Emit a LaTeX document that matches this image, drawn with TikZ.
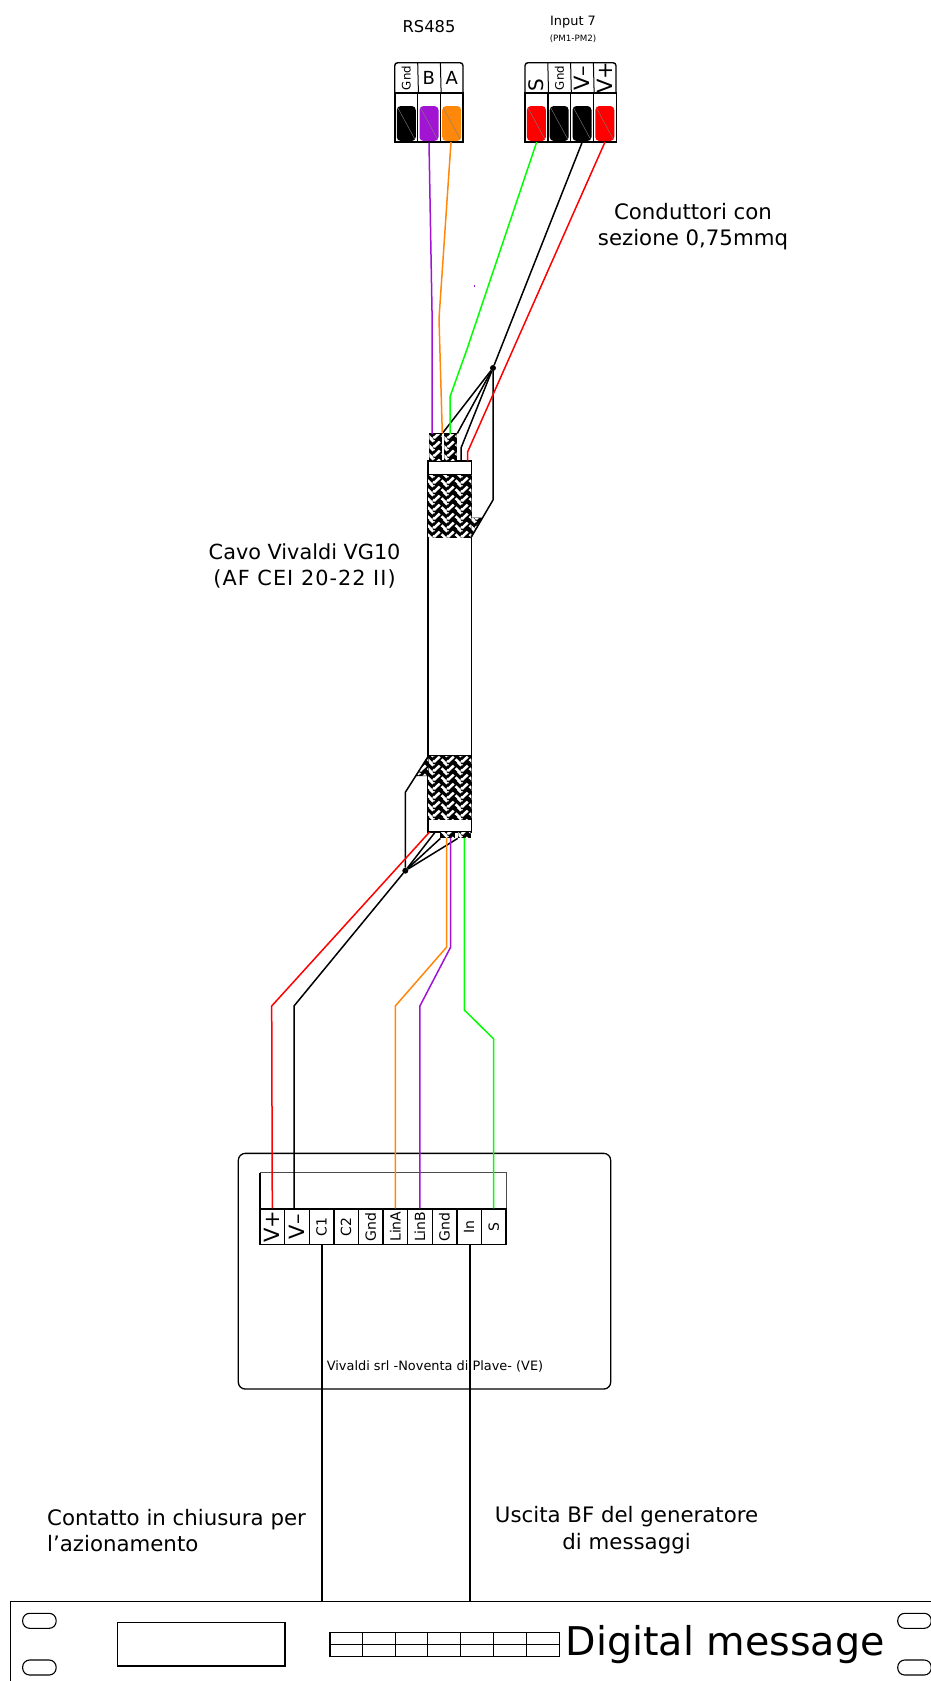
\documentclass[tikz,border=0pt]{standalone}
\usepackage{fontspec}
\usepackage{xcolor}
\setmainfont{DejaVu Sans}
\usetikzlibrary{patterns,calc}

\definecolor{wirered}{RGB}{255,0,0}
\definecolor{wiregreen}{RGB}{0,255,0}
\definecolor{wirepurple}{RGB}{160,20,210}
\definecolor{wireorange}{RGB}{255,135,10}

% woven screen of the cable
\pgfdeclarepatternformonly{braidweave}{\pgfqpoint{0pt}{0pt}}{\pgfqpoint{14pt}{9pt}}{\pgfqpoint{14pt}{9pt}}{
  \pgfsetlinewidth{2.7pt}
  \pgfpathmoveto{\pgfqpoint{0pt}{1pt}}\pgfpathlineto{\pgfqpoint{6pt}{7pt}}
  \pgfpathmoveto{\pgfqpoint{14pt}{1pt}}\pgfpathlineto{\pgfqpoint{20pt}{7pt}}
  \pgfpathmoveto{\pgfqpoint{8pt}{4pt}}\pgfpathlineto{\pgfqpoint{14pt}{-2pt}}
  \pgfpathmoveto{\pgfqpoint{8pt}{13pt}}\pgfpathlineto{\pgfqpoint{14pt}{7pt}}
  \pgfpathmoveto{\pgfqpoint{-6pt}{4pt}}\pgfpathlineto{\pgfqpoint{0pt}{-2pt}}
  \pgfpathmoveto{\pgfqpoint{-6pt}{13pt}}\pgfpathlineto{\pgfqpoint{0pt}{7pt}}
  \pgfusepath{stroke}
}

\begin{document}
\begin{tikzpicture}[x=1pt, y=-1pt]
  % Define styles
  \tikzstyle{wire} = [line width=1.5pt, line join=round]
  \tikzstyle{drain} = [wire, black]
  \tikzstyle{note} = [font=\fontsize{21.3}{26.5}\selectfont, align=center, inner sep=0pt]
  \tikzstyle{termtop} = [inner sep=0pt, minimum width=31pt, minimum height=23pt, rotate=90]
  \tikzstyle{plugbay} = [draw, line width=1.4pt, inner sep=0pt, minimum width=22.8pt, minimum height=49pt]
  \tikzstyle{plug} = [inner sep=0pt, minimum width=19pt, minimum height=35pt, rounded corners=4pt,
    path picture={
      \draw[gray, line width=.4pt] (path picture bounding box.north west) -- (path picture bounding box.south east);
      \draw[white, opacity=.3, line width=.8pt] ($(path picture bounding box.north west)+(0,-3.5)$) -- ($(path picture bounding box.north east)+(0,-3.5)$);
      \draw[white, opacity=.3, line width=.8pt] ($(path picture bounding box.south west)+(0,2)$) -- ($(path picture bounding box.south east)+(0,2)$);
    }]
  \tikzstyle{term} = [draw, line width=1.4pt, inner sep=0pt, minimum width=35.3pt, minimum height=24.6pt, rotate=90, font=\fontsize{14}{14}\selectfont]
  \tikzstyle{braid} = [draw, line width=1.2pt, inner sep=0pt, fill=black, postaction={pattern=braidweave, pattern color=white}]
  \tikzstyle{dot} = [circle, fill=black, inner sep=0pt, minimum size=6pt]
  \tikzstyle{slot} = [draw, line width=1.1pt, inner sep=0pt, rounded corners=7pt, minimum height=15pt, minimum width=33.5pt]

  \useasboundingbox (0,0) rectangle (931,1681);
  \clip (0,0) rectangle (931,1681);

  % Connector RS485
  \node [font=\fontsize{16.3}{16}\selectfont] (rsTitle) at (429,27) {RS485};
  \draw [line width=1.4pt, rounded corners=3pt] (394.7,93) |- (463,62.7) -- (463,93);
  \node [termtop, font=\fontsize{11.8}{12}\selectfont] (rsGnd) at (406.3,78) {Gnd};
  \node [font=\fontsize{18}{18}\selectfont] (rsB) at (428.8,78) {B};
  \node [font=\fontsize{18}{18}\selectfont] (rsA) at (451.8,78) {A};
  \node [plugbay] (bayGnd) at (406.3,117.5) {};
  \node [plugbay] (bayB) at (429,117.5) {};
  \node [plugbay] (bayA) at (451.7,117.5) {};
  \node [plug, fill=black] (plugGnd) at (406.3,123.5) {};
  \node [plug, fill=wirepurple] (plugB) at (429,123.5) {};
  \node [plug, fill=wireorange] (plugA) at (451.7,123.5) {};
  \draw [line width=1pt] (bayGnd.north east) -- (417.7,62.7);
  \draw [line width=1pt] (bayB.north east) -- (440.4,62.7);

  % Connector Input 7
  \node [font=\fontsize{12.9}{13}\selectfont] (inTitle) at (573,21.7) {Input 7};
  \node [font=\fontsize{8.7}{9}\selectfont] (inSub) at (573,39) {(PM1-PM2)};
  \draw [line width=1.4pt, rounded corners=3pt] (525,93) |- (616,62.7) -- (616,93);
  \node [termtop, font=\fontsize{20}{20}\selectfont] (inS) at (536.5,85) {S};
  \node [termtop, font=\fontsize{11.8}{12}\selectfont] (inGnd) at (559.5,78) {Gnd};
  \node [termtop, font=\fontsize{21}{21}\selectfont] (inVm) at (582.3,78) {V--};
  \node [termtop, font=\fontsize{21}{21}\selectfont] (inVp) at (605,78) {V+};
  \node [plugbay] (bayS) at (536.4,117.5) {};
  \node [plugbay] (bayG) at (559.2,117.5) {};
  \node [plugbay] (bayVm) at (582,117.5) {};
  \node [plugbay] (bayVp) at (604.8,117.5) {};
  \node [plug, fill=wirered] (plugS) at (536.4,123.5) {};
  \node [plug, fill=black] (plugG) at (559.2,123.5) {};
  \node [plug, fill=black] (plugVm) at (582,123.5) {};
  \node [plug, fill=wirered] (plugVp) at (604.8,123.5) {};
  \draw [line width=1pt] (bayS.north east) -- (547.8,62.7);
  \draw [line width=1pt] (bayG.north east) -- (570.6,62.7);
  \draw [line width=1pt] (bayVm.north east) -- (593.4,62.7);

  % Cable with its two screened ends
  \node [draw, line width=1.3pt, fill=white, inner sep=0pt, minimum width=43.3pt, minimum height=371pt] (cable) at (449.7,646.5) {};
  \node [braid, minimum width=43.3pt, minimum height=62.3pt] (braidUp) at (449.7,506.2) {};
  \node [braid, minimum width=43.3pt, minimum height=63.3pt] (braidDown) at (449.7,787.7) {};
  \node [braid, minimum width=12.4pt, minimum height=26.7pt] (pairA) at (435.5,447.4) {};
  \node [braid, minimum width=12.4pt, minimum height=26.7pt] (pairB) at (450.5,447.4) {};
  \node [braid, minimum width=13pt, minimum height=5.6pt] (pairC) at (447.5,835) {};
  \node [braid, minimum width=12pt, minimum height=5.6pt] (pairD) at (464.3,835) {};

  % Upper end of the drain
  \node [dot] (knotUp) at (493,368) {};
  \coordinate (drainUp) at (493,500);
  \coordinate (flapUp) at (481.7,518);
  \coordinate (shieldUp) at (471.3,537);
  \draw [braid, line width=1pt] (471.3,518) -- (flapUp) -- (shieldUp) -- cycle;
  \draw [drain] (knotUp) -- (drainUp) -- (shieldUp);
  \draw [drain] (knotUp) -- (pairA.north east);
  \draw [drain] (knotUp) -- (pairB.north east);
  \draw [drain] (knotUp) -- (461,448) -- (461,461);

  % Lower end of the drain
  \node [dot] (knotDown) at (405.3,870.7) {};
  \coordinate (drainDown) at (405.3,792.3);
  \coordinate (flapDown) at (416,775.7);
  \coordinate (shieldDown) at (428,756.7);
  \draw [braid, line width=1pt] (shieldDown) -- (flapDown) -- (428,775.7) -- cycle;
  \draw [drain] (shieldDown) -- (drainDown) -- (knotDown);
  \draw [drain] (knotDown) -- (435,832.3);
  \draw [drain] (knotDown) -- (pairC.south west);
  \draw [drain] (knotDown) -- (pairD.south west);

  % Device terminal block
  \node [draw, line width=1.3pt, rounded corners=7pt, inner sep=0pt, minimum width=372.4pt, minimum height=235.7pt] (box) at (424.5,1271.2) {};
  \draw [line width=.9pt, draw=black!70] (260,1209) |- (506,1172.7) -- (506,1209);
  \draw [line width=1.4pt] (260,1172.7) -- (260,1209);
  \node [term, font=\fontsize{21}{21}\selectfont] (tVp) at (272.3,1226.7) {V+};
  \node [term, font=\fontsize{21}{21}\selectfont] (tVm) at (296.9,1226.7) {V--};
  \node [term] (tCa) at (321.5,1226.7) {C1};
  \node [term] (tCb) at (346.1,1226.7) {C2};
  \node [term] (tGa) at (370.7,1226.7) {Gnd};
  \node [term] (tLa) at (395.3,1226.7) {LinA};
  \node [term] (tLb) at (419.9,1226.7) {LinB};
  \node [term] (tGb) at (444.5,1226.7) {Gnd};
  \node [term] (tIn) at (469.1,1226.7) {In};
  \node [term] (tS) at (493.7,1226.7) {S};
  \node [font=\fontsize{12.9}{13}\selectfont] (maker) at (435,1366.7) {Vivaldi srl -Noventa di Plave- (VE)};

  % Rack unit
  \draw [line width=1.2pt] (10.7,1690) |- (940,1601.7);
  \node [slot] (slotA) at (39.4,1620.8) {};
  \node [slot] (slotB) at (39.4,1667.5) {};
  \node [slot] (slotC) at (914.5,1620.8) {};
  \node [slot] (slotD) at (914.5,1667.5) {};
  \node [draw, line width=1.1pt, inner sep=0pt, minimum width=167.4pt, minimum height=43.3pt] (display) at (201.3,1644.3) {};
  \node [draw, line width=1.1pt, inner sep=0pt, minimum width=229.4pt, minimum height=24.4pt] (keys) at (444.7,1644.5) {};
  \draw [line width=.9pt] (keys.west) -- (keys.east);
  \foreach \i in {1,...,6}
    \draw [line width=.9pt] ($(keys.north west)+(\i*32.77,0)$) -- ($(keys.south west)+(\i*32.77,0)$);
  \node [font=\fontsize{39.6}{39}\selectfont, anchor=base west, inner sep=0pt] (brand) at (565.5,1655) {Digital message};

  % Wires from the connectors to the cable
  \draw [wire, wirepurple] (plugB.south |- bayB.south) -- (432,311) -- (432,434);
  \draw [wire, wireorange] (451,142) -- (439,318.6) -- (pairA.north east);
  \draw [wire, wiregreen] (536.7,142) -- (466.7,350) -- (450,396.7) -- (450,434);
  \draw [drain] (bayVm.south) -- (knotUp);
  \draw [wire, wirered] (605,142) -- (467.7,451.7) -- (467.7,461);

  % Wires from the cable to the terminal block
  \draw [wire, wirered] (429.3,832.3) -- (271.7,1006) -- (tVp.east);
  \draw [drain] (knotDown) -- (294,1006) -- (294,1209);
  \draw [wire, wireorange] (446.7,837.8) -- (446.7,947) -- (395.3,1006) -- (tLa.east);
  \draw [wire, wirepurple] (450.7,837.8) -- (450.7,947) -- (419.9,1006) -- (tLb.east);
  \draw [wire, wiregreen] (464.3,837.8) -- (464.3,1010) -- (493.7,1039) -- (tS.east);

  % Control lines to the rack unit
  \draw [drain] ($(tCa.west)+(.4,0)$) -- ($(tCa.west |- 0,1601.7)+(.4,0)$);
  \draw [drain] ($(tIn.west)+(.7,0)$) -- ($(tIn.west |- 0,1601.7)+(.7,0)$);

  % Stray mark
  \draw [wirepurple, line width=1pt] (474.5,285) -- (474.5,287);

  % Notes
  \node [note] (section) at (693,226.5) {Conduttori con\\sezione 0,75mmq};
  \node [note, font=\fontsize{20.8}{26.5}\selectfont] (cavo) at (304.6,566) {Cavo Vivaldi VG10\\{\addfontfeature{LetterSpace=5}(AF CEI 20-22 II)}};
  \node [note, align=left, anchor=west] (contact) at (47,1530.5) {Contatto in chiusura per\\l'azionamento};
  \node [note] (output) at (626.6,1530) {Uscita BF del generatore\\di messaggi};
\end{tikzpicture}
\end{document}
